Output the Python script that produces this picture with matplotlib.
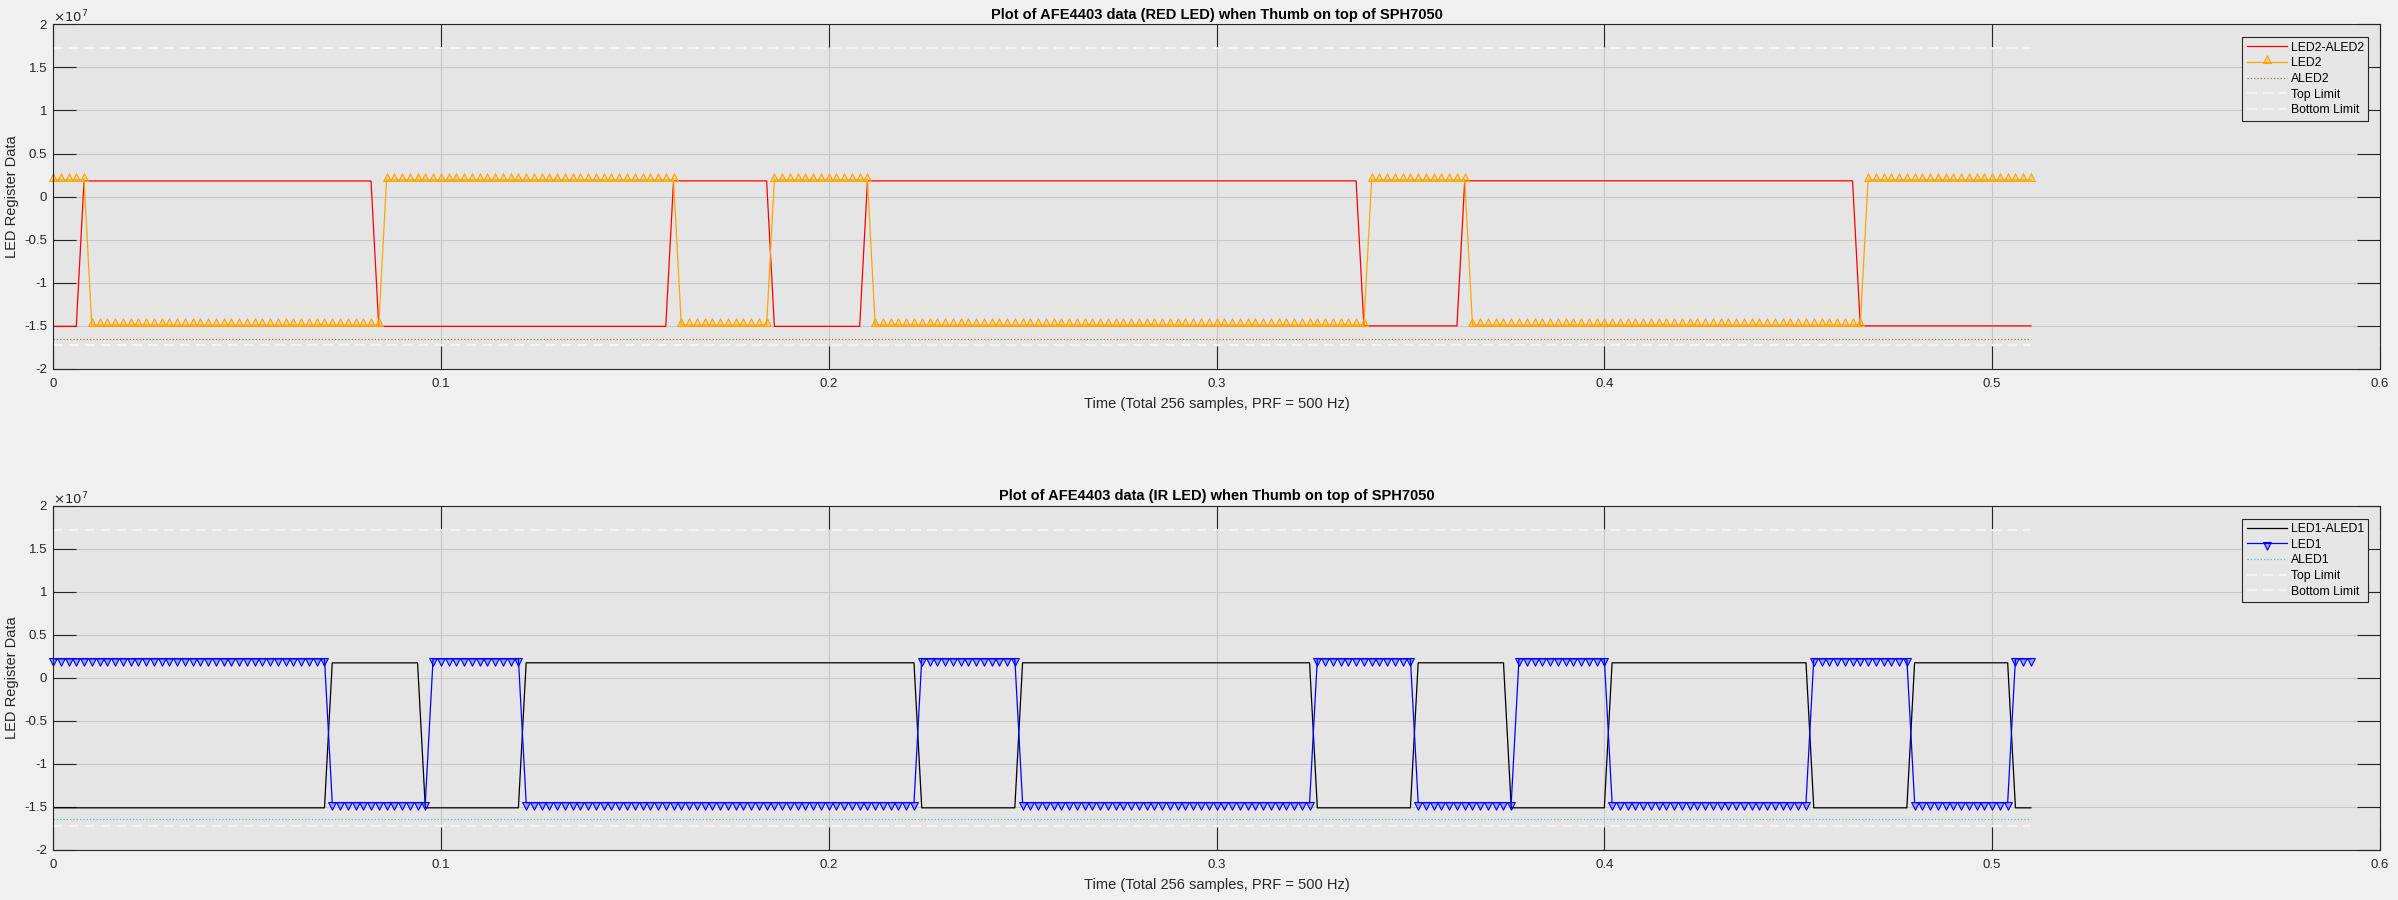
import numpy as np
import matplotlib
matplotlib.use("Agg")
import matplotlib.pyplot as plt
from matplotlib.path import Path

plt.rcParams['font.family'] = ['Liberation Sans', 'DejaVu Sans']
plt.rcParams['axes.unicode_minus'] = False

# ---------------- data (run-length encoded sample values) ----------------
n_samples = 256
prf = 500.0

# RED LED subplot
led2_aled2_levels = [-1.505e7, 1.82e6, -1.505e7, 1.83e6, -1.505e7, 1.83e6, -1.50e7, 1.84e6, -1.50e7]
led2_aled2_counts = [4, 38, 38, 13, 12, 64, 13, 51, 23]
led2_levels = [1.95e6, -1.49e7, 1.95e6, -1.49e7, 1.95e6, -1.49e7, 1.95e6, -1.49e7, 1.95e6]
led2_counts = [5, 38, 38, 12, 13, 64, 13, 51, 22]
aled2_levels = [-1.655e7]
aled2_counts = [256]

# IR LED subplot
led1_aled1_levels = [-1.51e7, 1.74e6, -1.51e7, 1.75e6, -1.51e7, 1.75e6, -1.51e7,
                     1.75e6, -1.51e7, 1.75e6, -1.51e7, 1.75e6, -1.51e7]
led1_aled1_counts = [36, 12, 13, 51, 13, 38, 13, 12, 13, 26, 13, 13, 3]
led1_levels = [2.2e6, -1.45e7, 2.2e6, -1.45e7, 2.2e6, -1.45e7, 2.2e6,
               -1.45e7, 2.2e6, -1.45e7, 2.2e6, -1.45e7, 2.2e6]
led1_counts = [36, 13, 12, 51, 13, 38, 13, 13, 12, 26, 13, 13, 3]
aled1_levels = [-1.64e7]
aled1_counts = [256]

top_limit = 1.72e7
bottom_limit = -1.72e7

y_ticks = [-2e7, -1.5e7, -1e7, -0.5e7, 0, 0.5e7, 1e7, 1.5e7, 2e7]
y_tick_labels = ['-2', '-1.5', '-1', '-0.5', '0', '0.5', '1', '1.5', '2']
x_ticks = [0, 0.1, 0.2, 0.3, 0.4, 0.5, 0.6]
x_tick_labels = ['0', '0.1', '0.2', '0.3', '0.4', '0.5', '0.6']

titles = ['Plot of AFE4403 data (RED LED) when Thumb on top of SPH7050',
          'Plot of AFE4403 data (IR LED) when Thumb on top of SPH7050']
x_label = 'Time (Total 256 samples, PRF = 500 Hz)'
y_label = 'LED Register Data'


def expand(levels, counts):
    return np.repeat(np.asarray(levels, dtype=float), counts)


# triangle markers whose base sits just past the data point (as drawn in the original)
tri_up = Path([(0, 6.7), (-3.85, -1.0), (3.85, -1.0), (0, 6.7)],
              [Path.MOVETO, Path.LINETO, Path.LINETO, Path.CLOSEPOLY])
tri_down = Path([(0, -6.7), (-3.85, 1.0), (3.85, 1.0), (0, -6.7)],
                [Path.MOVETO, Path.LINETO, Path.LINETO, Path.CLOSEPOLY])

t = np.arange(n_samples) / prf

W, H = 2398, 900
fig = plt.figure(figsize=(W / 100, H / 100), dpi=100, facecolor='#F0F0F0')

ax_left, ax_right = 53, 2380
panels = [
    dict(top=24.3, bottom=369.0, diff=(led2_aled2_levels, led2_aled2_counts), sig=(led2_levels, led2_counts),
         amb=(aled2_levels, aled2_counts), diff_color='#FF0000', sig_color='#FFA500', amb_color='#A07840',
         marker=tri_up, names=['LED2-ALED2', 'LED2', 'ALED2'], title=titles[0]),
    dict(top=505.7, bottom=850.0, diff=(led1_aled1_levels, led1_aled1_counts), sig=(led1_levels, led1_counts),
         amb=(aled1_levels, aled1_counts), diff_color='#000000', sig_color='#0000FF', amb_color='#3CC8C8',
         marker=tri_down, names=['LED1-ALED1', 'LED1', 'ALED1'], title=titles[1]),
]

tick_len_pt = 23 * 72 / 100

for p in panels:
    ax = fig.add_axes([ax_left / W, 1 - p['bottom'] / H, (ax_right - ax_left) / W, (p['bottom'] - p['top']) / H])
    ax.set_facecolor('#E5E5E5')
    ax.set_axisbelow(True)
    ax.grid(True, color='#C8C8C8', lw=0.8)

    ax.plot(t, expand(*p['diff']), color=p['diff_color'], lw=0.9, label=p['names'][0])
    face = matplotlib.colors.to_rgba(p['sig_color'], 0.3)
    ax.plot(t, expand(*p['sig']), color=p['sig_color'], lw=0.9, marker=p['marker'], ms=9.6,
            mfc=face, mec=p['sig_color'], mew=0.8, label=p['names'][1], clip_on=False)
    ax.plot(t, expand(*p['amb']), color=p['amb_color'], lw=0.9, ls=':', label=p['names'][2])
    ax.plot(t, np.full(n_samples, top_limit), color='#F8F8F8', lw=1.1, dashes=(6.5, 3.9), label='Top Limit')
    ax.plot(t, np.full(n_samples, bottom_limit), color='#F8F8F8', lw=1.1, dashes=(6.5, 3.9), label='Bottom Limit')

    ax.set_xlim(0, 0.6)
    ax.set_ylim(-2e7, 2e7)
    ax.set_xticks(x_ticks)
    ax.set_xticklabels(x_tick_labels)
    ax.set_yticks(y_ticks)
    ax.set_yticklabels(y_tick_labels)
    ax.tick_params(axis='both', which='major', direction='in', length=tick_len_pt, width=0.8,
                   top=True, right=True, labelsize=9.5, colors='#262626')
    ax.tick_params(axis='x', pad=6.5)
    ax.tick_params(axis='y', pad=4.3)
    for s in ax.spines.values():
        s.set_color('#262626')
        s.set_linewidth(0.8)

    ax.set_title(p['title'], fontsize=10.5, fontweight='bold', pad=4, color='#000000')
    ax.set_xlabel(x_label, fontsize=10.5, color='#262626')
    ax.xaxis.set_label_coords(0.5, -0.081)
    ax.set_ylabel(y_label, fontsize=10.5, color='#262626')
    ax.yaxis.set_label_coords(-0.0146, 0.5)
    ax.text(0.0, 1.0 + 1.5 / (p['bottom'] - p['top']), r'$\times10^{7}$', transform=ax.transAxes,
            ha='left', va='baseline', fontsize=9.5, color='#262626')

    pad_x = 12 / (ax_right - ax_left)
    pad_y = 13 / (p['bottom'] - p['top'])
    leg = ax.legend(loc='upper right', bbox_to_anchor=(1 - pad_x, 1 - pad_y), borderaxespad=0,
                    fontsize=8.8, frameon=True, fancybox=False, framealpha=1, facecolor='#E6E6E6',
                    edgecolor='#262626', handlelength=3.3, handletextpad=0.3, labelspacing=0.3,
                    borderpad=0.35, numpoints=1)
    leg.get_frame().set_linewidth(0.8)

fig.savefig('out.png', dpi=100, facecolor=fig.get_facecolor())
